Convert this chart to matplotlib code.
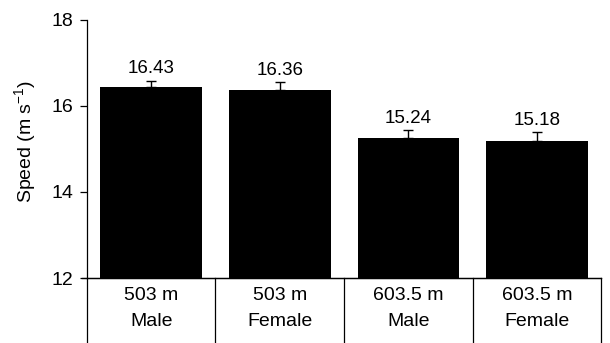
import numpy as np
import matplotlib
matplotlib.use("Agg")
import matplotlib.pyplot as plt
import matplotlib.transforms as mtransforms

plt.rcParams['font.family'] = ['Liberation Sans', 'DejaVu Sans']
plt.rcParams['mathtext.fontset'] = 'custom'
plt.rcParams['mathtext.rm'] = 'Liberation Sans'
plt.rcParams['mathtext.it'] = 'Liberation Sans'

# data
dist_labels = ['503 m', '503 m', '603.5 m', '603.5 m']
sex_labels = ['Male', 'Female', 'Male', 'Female']
speed = [16.43, 16.36, 15.24, 15.18]
speed_err = [0.15, 0.19, 0.19, 0.20]
value_text = ['16.43', '16.36', '15.24', '15.18']
y_ticks = [12, 14, 16, 18]

fs = 14

fig = plt.figure(figsize=(6.1, 3.43), dpi=100)
ax = fig.add_axes([0.1426, 0.1895, 0.8427, 0.7535])

x = np.arange(len(speed))
ax.bar(x, speed, width=0.79, color='black', zorder=2)
ax.errorbar(x, speed, yerr=[[0] * len(speed), speed_err], fmt='none',
            ecolor='black', elinewidth=1, capsize=3.5, capthick=1, zorder=3)

for xi, v, e, t in zip(x, speed, speed_err, value_text):
    ax.annotate(t, (xi, v + e), xytext=(0, 2.5), textcoords='offset points',
                ha='center', va='bottom', fontsize=fs - 0.5)

ax.set_xlim(-0.5, len(speed) - 0.5)
ax.set_ylim(12, 18)
ax.set_yticks(y_ticks)
ax.tick_params(axis='y', direction='out', length=5, width=0.9, labelsize=fs, pad=5)
ax.set_xticks([])
for side in ['top', 'right']:
    ax.spines[side].set_visible(False)
ax.spines['left'].set_linewidth(0.9)
ax.spines['bottom'].set_linewidth(0.9)

ax.set_ylabel('Speed (m s$^{-1}$)', fontsize=fs)
ax.yaxis.set_label_coords(-0.095, 0.53)

# table-like category area below the axis
trans = mtransforms.blended_transform_factory(ax.transData, ax.transAxes)
ax.plot([-0.5 - 0.04, len(speed) - 0.5], [0, 0], color='black', lw=0.9,
        transform=trans, clip_on=False)
for b in np.arange(len(speed) + 1) - 0.5:
    ax.plot([b, b], [0, -0.27], color='black', lw=0.9, transform=trans, clip_on=False)
for xi, d, s in zip(x, dist_labels, sex_labels):
    ax.text(xi, -0.066, d, transform=trans, ha='center', va='center', fontsize=fs)
    ax.text(xi, -0.17, s, transform=trans, ha='center', va='center', fontsize=fs)

fig.savefig('out.png', dpi=100)
